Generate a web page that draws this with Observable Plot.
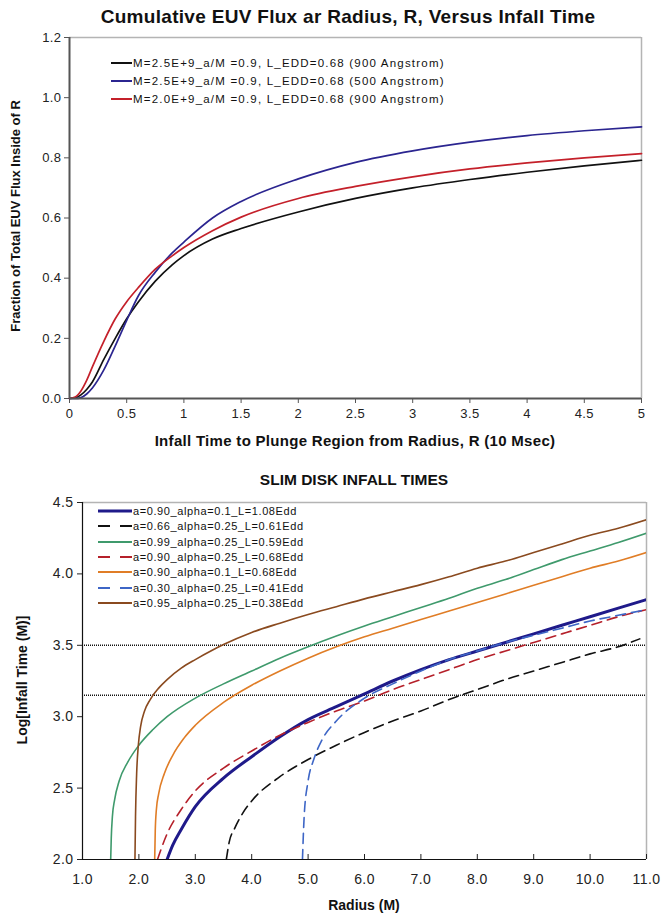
<!DOCTYPE html>
<html><head><meta charset="utf-8">
<script src="https://cdn.jsdelivr.net/npm/d3@7"></script>
<script src="https://cdn.jsdelivr.net/npm/@observablehq/plot@0.6"></script>
<style>
html,body{margin:0;padding:0;background:#fff;}
#root{position:relative;width:663px;height:917px;font-family:"Liberation Sans",Arial,sans-serif;color:#111;overflow:hidden;}
.abs{position:absolute;white-space:nowrap;}
.title{font-weight:bold;transform:translate(-50%,-50%);}
.ytitle{font-weight:bold;transform:translate(-50%,-50%) rotate(-90deg);}
.legend{font-size:11px;letter-spacing:0.6px;color:#111;}
.legrow{position:absolute;display:flex;align-items:center;height:14px;}
svg text{letter-spacing:0.4px;}
</style></head><body><div id="root"></div>
<script>
// ---------------- Top chart data ----------------
const topTitle = "Cumulative EUV Flux ar Radius, R, Versus Infall Time";
const topXLabel = "Infall Time to Plunge Region from Radius, R (10 Msec)";
const topYLabel = "Fraction of Total EUV Flux Inside of R";
const topSeriesNames = [
  "M=2.5E+9_a/M =0.9, L_EDD=0.68 (900 Angstrom)",
  "M=2.5E+9_a/M =0.9, L_EDD=0.68 (500 Angstrom)",
  "M=2.0E+9_a/M =0.9, L_EDD=0.68 (900 Angstrom)"
];
const topTime = [0, 0.05, 0.1, 0.15, 0.2, 0.3, 0.4, 0.5, 0.6, 0.75, 0.9, 1, 1.25, 1.5, 2, 2.5, 3, 3.5, 4, 4.5, 5];
const fluxM25_900 = [0, 0.002, 0.012, 0.03, 0.055, 0.13, 0.2, 0.265, 0.32, 0.39, 0.445, 0.475, 0.53, 0.565, 0.62, 0.665, 0.70, 0.728, 0.752, 0.773, 0.792];
const fluxM25_500 = [0, 0, 0.003, 0.015, 0.035, 0.095, 0.175, 0.26, 0.34, 0.42, 0.485, 0.52, 0.6, 0.655, 0.73, 0.785, 0.823, 0.852, 0.874, 0.89, 0.903];
const fluxM20_900 = [0, 0.005, 0.025, 0.06, 0.105, 0.19, 0.265, 0.322, 0.368, 0.43, 0.475, 0.502, 0.558, 0.603, 0.665, 0.705, 0.737, 0.763, 0.783, 0.80, 0.814];
const topXTicks = [0, 0.5, 1, 1.5, 2, 2.5, 3, 3.5, 4, 4.5, 5];
const topYTicks = [0, 0.2, 0.4, 0.6, 0.8, 1.0, 1.2];

// ---------------- Bottom chart data ----------------
const botTitle = "SLIM DISK INFALL TIMES";
const botXLabel = "Radius (M)";
const botYLabel = "Log[Infall Time (M)]";
const botSeriesNames = [
  "a=0.90_alpha=0.1_L=1.08Edd",
  "a=0.66_alpha=0.25_L=0.61Edd",
  "a=0.99_alpha=0.25_L=0.59Edd",
  "a=0.90_alpha=0.25_L=0.68Edd",
  "a=0.90_alpha=0.1_L=0.68Edd",
  "a=0.30_alpha=0.25_L=0.41Edd",
  "a=0.95_alpha=0.25_L=0.38Edd"
];
const r1 = [2.5, 2.6, 2.75, 3, 3.5, 4, 4.5, 5, 5.5, 6, 6.5, 7, 7.5, 8, 8.5, 9, 9.5, 10, 10.5, 11];
const t1 = [2.0, 2.1, 2.21, 2.37, 2.57, 2.72, 2.86, 2.98, 3.07, 3.16, 3.25, 3.33, 3.40, 3.46, 3.52, 3.58, 3.64, 3.70, 3.76, 3.82];
const r2 = [3.55, 3.6, 3.7, 3.85, 4, 4.5, 5, 5.5, 6, 6.5, 7, 7.5, 8, 8.5, 9, 9.5, 10, 10.5, 10.88];
const t2 = [2.0, 2.12, 2.22, 2.33, 2.41, 2.58, 2.7, 2.8, 2.89, 2.97, 3.04, 3.12, 3.19, 3.26, 3.32, 3.38, 3.44, 3.49, 3.545];
const r3 = [1.5, 1.51, 1.53, 1.57, 1.65, 1.8, 2, 2.25, 2.5, 3, 3.5, 4, 4.5, 5, 5.5, 6, 6.5, 7, 7.5, 8, 8.5, 9, 9.5, 10, 10.5, 11];
const t3 = [2.0, 2.15, 2.3, 2.42, 2.55, 2.68, 2.8, 2.91, 3.0, 3.13, 3.23, 3.32, 3.41, 3.49, 3.565, 3.635, 3.70, 3.765, 3.83, 3.9, 3.96, 4.03, 4.1, 4.16, 4.22, 4.285];
const r4 = [2.33, 2.4, 2.5, 2.75, 3, 3.5, 4, 4.5, 5, 5.5, 6, 6.5, 7, 7.5, 8, 8.5, 9, 9.5, 10, 10.5, 11];
const t4 = [2.0, 2.08, 2.18, 2.35, 2.48, 2.64, 2.76, 2.87, 2.96, 3.04, 3.11, 3.19, 3.26, 3.33, 3.40, 3.46, 3.52, 3.58, 3.64, 3.70, 3.75];
const r5 = [2.28, 2.29, 2.31, 2.35, 2.45, 2.6, 2.8, 3, 3.5, 4, 4.5, 5, 5.5, 6, 6.5, 7, 7.5, 8, 8.5, 9, 9.5, 10, 10.5, 11];
const t5 = [2.0, 2.2, 2.35, 2.46, 2.6, 2.73, 2.85, 2.94, 3.1, 3.22, 3.32, 3.41, 3.49, 3.56, 3.62, 3.68, 3.74, 3.80, 3.86, 3.92, 3.98, 4.04, 4.09, 4.15];
const r6 = [4.9, 4.93, 5.0, 5.1, 5.25, 5.5, 6, 6.5, 7, 7.5, 8, 8.5, 9, 9.5, 10, 10.5, 11];
const t6 = [2.0, 2.3, 2.55, 2.7, 2.84, 2.97, 3.13, 3.23, 3.32, 3.40, 3.46, 3.52, 3.57, 3.62, 3.67, 3.71, 3.75];
const r7 = [1.93, 1.94, 1.96, 1.99, 2.03, 2.1, 2.2, 2.35, 2.5, 2.75, 3, 3.3, 3.5, 4, 4.5, 5, 5.5, 6, 6.5, 7, 7.5, 8, 8.5, 9, 9.5, 10, 10.5, 11];
const t7 = [2.0, 2.3, 2.6, 2.8, 2.93, 3.04, 3.12, 3.2, 3.26, 3.34, 3.40, 3.465, 3.505, 3.59, 3.655, 3.715, 3.77, 3.825, 3.875, 3.925, 3.98, 4.04, 4.09, 4.15, 4.21, 4.27, 4.32, 4.38];
const botRefLines = [3.5, 3.15];
const botXTicks = [1, 2, 3, 4, 5, 6, 7, 8, 9, 10, 11];
const botYTicks = [2.0, 2.5, 3.0, 3.5, 4.0, 4.5];

// ---------------- Styles ----------------
const FONT = '"Liberation Sans", Arial, sans-serif';
const topColors = ["#111111", "#2b2590", "#c4202a"];
const botStyles = [
  {stroke: "#1f1a8a", width: 3, dash: null, legDash: null},
  {stroke: "#111111", width: 1.6, dash: "10,6", legDash: "12,10"},
  {stroke: "#3f9a6c", width: 1.6, dash: null, legDash: null},
  {stroke: "#b5202a", width: 1.6, dash: "10,6", legDash: "12,10"},
  {stroke: "#e07d26", width: 1.6, dash: null, legDash: null},
  {stroke: "#3e66c6", width: 1.6, dash: "10,6", legDash: "12,10"},
  {stroke: "#8a4a1f", width: 1.6, dash: null, legDash: null}
];

const root = document.getElementById("root");
function addText(txt, cls, left, top, size, spacing) {
  const d = document.createElement("div");
  d.className = "abs " + cls;
  d.style.left = left + "px"; d.style.top = top + "px"; d.style.fontSize = size + "px";
  if (spacing) d.style.letterSpacing = spacing + "px";
  d.textContent = txt;
  root.appendChild(d);
}

// ---------------- Top chart ----------------
const topRows = [];
[fluxM25_900, fluxM25_500, fluxM20_900].forEach((arr, k) => {
  topTime.forEach((t, i) => topRows.push({t, f: arr[i], s: topSeriesNames[k]}));
});
const topPlot = Plot.plot({
  width: 663, height: 460,
  marginTop: 37, marginBottom: 62, marginLeft: 69, marginRight: 22,
  style: {fontFamily: FONT, fontSize: "13px", color: "#222", background: "transparent"},
  x: {domain: [0, 5]},
  y: {domain: [0, 1.2]},
  color: {domain: topSeriesNames, range: topColors},
  marks: [
    Plot.ruleY([1.2], {stroke: "#b4b4b4", strokeWidth: 1.5}),
    Plot.ruleX([5], {stroke: "#b4b4b4", strokeWidth: 1.5}),
    Plot.axisX({ticks: topXTicks, tickFormat: d => String(d), tickSize: 5, tickPadding: 5, label: null, stroke: "#555"}),
    Plot.axisY({ticks: topYTicks, tickFormat: d3.format(".1f"), tickSize: 5, tickPadding: 3, label: null, stroke: "#555"}),
    Plot.line(topRows, {x: "t", y: "f", z: "s", stroke: "s", strokeWidth: 1.7, curve: "monotone-x"}),
    Plot.ruleX([0], {stroke: "#555", strokeWidth: 2}),
    Plot.ruleY([0], {stroke: "#555", strokeWidth: 2})
  ]
});
topPlot.style.position = "absolute"; topPlot.style.left = "0px"; topPlot.style.top = "0px";
root.appendChild(topPlot);

addText(topTitle, "title", 348, 17, 19, 0.3);
addText(topXLabel, "title", 355, 440, 15, 0.3);
addText(topYLabel, "ytitle", 15, 216, 13);

// top legend
const topLeg = d3.select(root).append("div").attr("class", "abs legend").style("left", "0px").style("top", "0px").style("font-size", "11.5px").style("letter-spacing", "1.2px");
topSeriesNames.forEach((name, i) => {
  const row = topLeg.append("div").attr("class", "legrow").style("left", "111px").style("top", (56 + i * 18) + "px");
  const sv = row.append("svg").attr("width", 21).attr("height", 14);
  sv.append("line").attr("x1", 0).attr("x2", 21).attr("y1", 7).attr("y2", 7).attr("stroke", topColors[i]).attr("stroke-width", 2);
  row.append("span").style("margin-left", "1px").text(name);
});

// ---------------- Bottom chart ----------------
const botR = [r1, r2, r3, r4, r5, r6, r7];
const botT = [t1, t2, t3, t4, t5, t6, t7];
const botMarks = botR.map((rs, k) => {
  const rows = rs.map((r, i) => ({r, t: botT[k][i]}));
  const st = botStyles[k];
  return Plot.line(rows, {x: "r", y: "t", stroke: st.stroke, strokeWidth: st.width, strokeDasharray: st.dash, curve: "monotone-x", clip: true});
});
const botPlot = Plot.plot({
  width: 663, height: 457,
  marginTop: 42, marginBottom: 58, marginLeft: 82, marginRight: 17,
  style: {fontFamily: FONT, fontSize: "14px", color: "#222", background: "transparent"},
  x: {domain: [1, 11]},
  y: {domain: [2, 4.5]},
  marks: [
    Plot.ruleY([4.5], {stroke: "#b4b4b4", strokeWidth: 1.5}),
    Plot.ruleX([11], {stroke: "#b4b4b4", strokeWidth: 1.5}),
    Plot.axisX({ticks: botXTicks, tickFormat: d3.format(".1f"), tickSize: -5, tickPadding: 20, label: null, stroke: "#222"}),
    Plot.axisY({ticks: botYTicks, tickFormat: d3.format(".1f"), tickSize: 5, tickPadding: 4, label: null, stroke: "#222"}),
    Plot.ruleY(botRefLines, {stroke: "#111", strokeWidth: 1.6, strokeDasharray: "1,1"}),
    ...botMarks,
    Plot.ruleX([1], {stroke: "#111", strokeWidth: 1.2}),
    Plot.ruleY([2], {stroke: "#111", strokeWidth: 1.2})
  ]
});
botPlot.style.position = "absolute"; botPlot.style.left = "0px"; botPlot.style.top = "460px";
root.appendChild(botPlot);

addText(botTitle, "title", 354, 480, 15.5);
addText(botXLabel, "title", 364, 905, 14);
addText(botYLabel, "ytitle", 22, 680, 14);

const botLeg = d3.select(root).append("div").attr("class", "abs legend").style("left", "0px").style("top", "0px");
botSeriesNames.forEach((name, i) => {
  const st = botStyles[i];
  const row = botLeg.append("div").attr("class", "legrow").style("left", "98px").style("top", (504 + i * 15.3) + "px");
  const sv = row.append("svg").attr("width", 34).attr("height", 14);
  const ln = sv.append("line").attr("x1", 0).attr("x2", 34).attr("y1", 7).attr("y2", 7).attr("stroke", st.stroke).attr("stroke-width", st.width === 3 ? 3 : 2);
  if (st.legDash) ln.attr("stroke-dasharray", st.legDash);
  row.append("span").style("margin-left", "1px").text(name);
});
</script></body></html>
